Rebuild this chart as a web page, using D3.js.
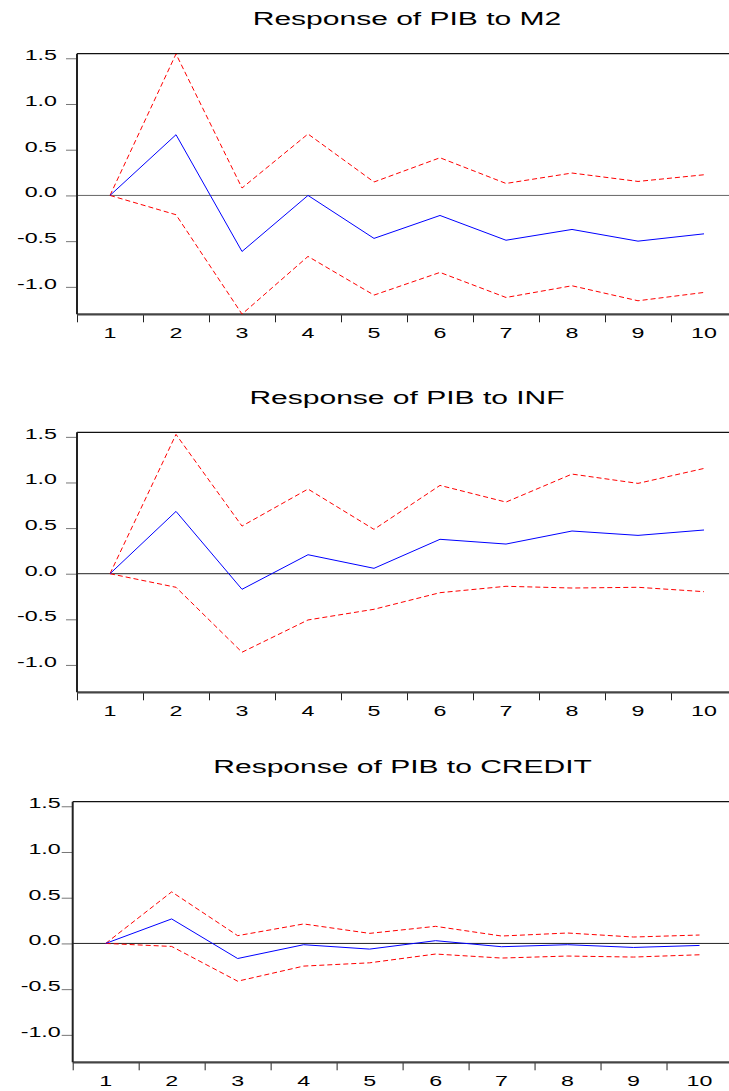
<!DOCTYPE html>
<html>
<head>
<meta charset="utf-8">
<script src="https://d3js.org/d3.v7.min.js"></script>
<style>
  body { margin: 0; background: #fff; }
  text { font-family: "Liberation Sans", Arial, sans-serif; fill: #000; }
</style>
</head>
<body>
<div id="chart"></div>
<script>

// periods of the impulse response
var periods = [1, 2, 3, 4, 5, 6, 7, 8, 9, 10];

// y axis tick values
var yTicks = [-1.0, -0.5, 0.0, 0.5, 1.0, 1.5];

// panel titles
var titles = ["Response of PIB to M2", "Response of PIB to INF", "Response of PIB to CREDIT"];

// response of PIB to M2
var m2Resp  = [0, 0.664, -0.613, 0.000, -0.470, -0.219, -0.490, -0.372, -0.500, -0.420];
var m2Upper = [0, 1.547, 0.081, 0.672, 0.147, 0.412, 0.131, 0.245, 0.153, 0.226];
var m2Lower = [0, -0.211, -1.298, -0.667, -1.090, -0.842, -1.116, -0.988, -1.152, -1.061];

// response of PIB to INF
var infResp  = [0, 0.683, -0.171, 0.208, 0.059, 0.377, 0.325, 0.468, 0.420, 0.479];
var infUpper = [0, 1.527, 0.522, 0.928, 0.486, 0.968, 0.785, 1.092, 0.990, 1.154];
var infLower = [0, -0.149, -0.861, -0.507, -0.390, -0.208, -0.138, -0.157, -0.149, -0.197];

// response of PIB to CREDIT
var creditResp  = [0, 0.268, -0.165, -0.014, -0.062, 0.030, -0.036, -0.014, -0.044, -0.022];
var creditUpper = [0, 0.564, 0.085, 0.213, 0.110, 0.187, 0.081, 0.114, 0.070, 0.092];
var creditLower = [0, -0.033, -0.413, -0.248, -0.212, -0.116, -0.160, -0.138, -0.149, -0.124];

var width = 729,
    height = 1091;

// the original text is stretched horizontally
var stretch = 1.55;

var svg = d3.select("#chart")
    .append("svg")
    .attr("width", width)
    .attr("height", height);

svg.append("rect")
    .attr("width", width)
    .attr("height", height)
    .attr("fill", "#fff");

// layout of each panel
var panels = [
    { title: titles[0], resp: m2Resp, upper: m2Upper, lower: m2Lower,
      left: 77, right: 737, top: 53.7, bottom: 314.3, labelPad: 9 },
    { title: titles[1], resp: infResp, upper: infUpper, lower: infLower,
      left: 77, right: 737, top: 432.3, bottom: 692.3, labelPad: 9 },
    { title: titles[2], resp: creditResp, upper: creditUpper, lower: creditLower,
      left: 72.7, right: 732.5, top: 801.7, bottom: 1062.3, labelPad: 1 }
];

panels.forEach(function(p, k) {

    var g = svg.append("g");

    var x = d3.scaleBand()
        .domain(periods)
        .range([p.left, p.right]);

    // linear scale for the tick marks between periods
    var xEdge = d3.scaleLinear()
        .domain([0, periods.length])
        .range([p.left, p.right]);

    var y = d3.scaleLinear()
        .domain([-1.30, 1.55])
        .range([p.bottom, p.top]);

    // title
    g.append("text")
        .attr("transform", "translate(" + ((p.left + p.right) / 2) + "," + (p.top - 28.7) + ") scale(" + 1.58 + ",1)")
        .attr("text-anchor", "middle")
        .attr("font-size", 19)
        .text(p.title);

    // zero line
    g.append("line")
        .attr("x1", p.left)
        .attr("x2", p.right)
        .attr("y1", y(0))
        .attr("y2", y(0))
        .attr("stroke", k == 0 ? "#666" : "#222")
        .attr("stroke-width", 1);

    // y axis
    var yAxis = g.append("g")
        .attr("transform", "translate(" + p.left + ",0)")
        .call(d3.axisLeft(y)
            .tickValues(yTicks)
            .tickSize(11)
            .tickPadding(p.labelPad)
            .tickFormat(function(d) { return d.toFixed(1); }));
    yAxis.select(".domain").remove();
    yAxis.selectAll(".tick line").attr("stroke", "#777");
    yAxis.selectAll(".tick text")
        .attr("font-size", 15)
        .attr("font-family", null)
        .attr("dy", "0.1em")
        .each(function() {
            var t = d3.select(this);
            t.attr("x", +t.attr("x") / stretch)
             .attr("transform", "scale(" + stretch + ",1)");
        });

    // x axis tick marks at period boundaries
    var xTickAxis = g.append("g")
        .attr("transform", "translate(0," + p.bottom + ")")
        .call(d3.axisBottom(xEdge)
            .tickValues(d3.range(0, periods.length + 1))
            .tickSize(8)
            .tickFormat(""));
    xTickAxis.select(".domain").remove();
    xTickAxis.selectAll(".tick line").attr("stroke", "#222");

    // x axis labels at period centres
    var xLabelAxis = g.append("g")
        .attr("transform", "translate(0," + p.bottom + ")")
        .call(d3.axisBottom(x)
            .tickSize(0)
            .tickPadding(13));
    xLabelAxis.select(".domain").remove();
    xLabelAxis.selectAll(".tick text")
        .attr("font-size", 15)
        .attr("font-family", null)
        .attr("transform", "scale(" + stretch + ",1)");

    // frame
    g.append("line")
        .attr("x1", p.left).attr("x2", p.right)
        .attr("y1", p.top).attr("y2", p.top)
        .attr("stroke", "#111").attr("stroke-width", 1.2);
    g.append("line")
        .attr("x1", p.right).attr("x2", p.right)
        .attr("y1", p.top).attr("y2", p.bottom)
        .attr("stroke", "#111").attr("stroke-width", 1.2);
    g.append("line")
        .attr("x1", p.left).attr("x2", p.right)
        .attr("y1", p.bottom).attr("y2", p.bottom)
        .attr("stroke", "#444").attr("stroke-width", 2.2);
    g.append("line")
        .attr("x1", p.left).attr("x2", p.left)
        .attr("y1", p.top).attr("y2", p.bottom)
        .attr("stroke", "#222").attr("stroke-width", 2);

    var line = d3.line()
        .x(function(d, i) { return x(periods[i]) + x.bandwidth() / 2; })
        .y(function(d) { return y(d); });

    // confidence bands
    [p.upper, p.lower].forEach(function(band) {
        g.append("path")
            .datum(band)
            .attr("d", line)
            .attr("fill", "none")
            .attr("stroke", "#ff0000")
            .attr("stroke-width", 1)
            .attr("stroke-dasharray", "5,3");
    });

    // impulse response
    g.append("path")
        .datum(p.resp)
        .attr("d", line)
        .attr("fill", "none")
        .attr("stroke", "#0000ff")
        .attr("stroke-width", 1);
});

</script>
</body>
</html>
